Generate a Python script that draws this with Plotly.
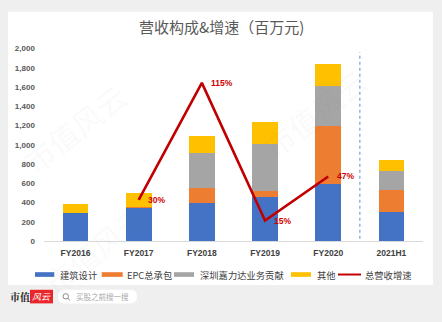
import plotly.graph_objects as go

# ---- data -------------------------------------------------------------
categories = ["FY2016", "FY2017", "FY2018", "FY2019", "FY2020", "2021H1"]
design = [290, 350, 400, 455, 595, 305]          # 建筑设计
epc = [0, 5, 147, 65, 595, 230]                   # EPC总承包
jialida = [0, 0, 367, 490, 420, 190]              # 深圳嘉力达业务贡献
other = [95, 140, 175, 230, 225, 115]             # 其他

growth_cats = ["FY2017", "FY2018", "FY2019", "FY2020"]
growth = [30, 115, 15, 47]                        # 总营收增速 (%)

series_names = ["建筑设计", "EPC总承包", "深圳嘉力达业务贡献", "其他"]
series_colors = ["#4472C4", "#ED7D31", "#A5A5A5", "#FFC000"]
line_name = "总营收增速"
line_color = "#C00000"

title_text = "营收构成&增速（百万元)"

# ---- canvas helpers ----------------------------------------------------
W, H = 442, 322


def px(x):
    return x / W


def py(y):
    return 1 - y / H


CJK = "Noto Sans CJK SC"
NUM = "Liberation Sans"

fig = go.Figure()

for name, vals, col in zip(series_names, [design, epc, jialida, other], series_colors):
    fig.add_trace(go.Bar(
        x=categories, y=vals, name=name,
        marker=dict(color=col, line=dict(width=0)),
        showlegend=False, hoverinfo="skip",
    ))

fig.add_trace(go.Scatter(
    x=growth_cats, y=growth, yaxis="y2", mode="lines", name=line_name,
    line=dict(color=line_color, width=2.6), showlegend=False, hoverinfo="skip",
))

shapes = []
annotations = []

# white card behind the chart
shapes.append(dict(type="rect", xref="paper", yref="paper",
                   x0=px(8), x1=px(433), y0=py(289), y1=py(8),
                   fillcolor="white", line=dict(width=0), layer="below"))

# separator between annual and half-year data
shapes.append(dict(type="line", xref="x", yref="y", x0=4.5, x1=4.5, y0=25, y1=1960,
                   line=dict(color="#8FAADC", width=1.4, dash="dot")))

# growth labels
for c, v in zip(growth_cats, growth):
    annotations.append(dict(
        x=c, y=v, xref="x", yref="y2", text=f"{v}%", showarrow=False,
        xanchor="left", yanchor="middle", xshift=7,
        font=dict(family=NUM, size=8.5, color="#D00000", weight="bold"),
    ))

# title
annotations.append(dict(
    x=px(221), y=py(23.5), xref="paper", yref="paper", text=title_text,
    showarrow=False, xanchor="center", yanchor="middle",
    font=dict(family=CJK, size=15, color="#595959"),
))

# legend
legend_y = 278.3
swatches = [(35, 54.3), (101.7, 122.7), (174, 194), (291, 311)]
text_x = [57.7, 125, 197.7, 314.7]
for (x0, x1), tx, name, col in zip(swatches, text_x, series_names, series_colors):
    shapes.append(dict(type="rect", xref="paper", yref="paper",
                       x0=px(x0), x1=px(x1), y0=py(legend_y + 2.4), y1=py(legend_y - 2.4),
                       fillcolor=col, line=dict(width=0)))
    annotations.append(dict(x=px(tx), y=py(legend_y), xref="paper", yref="paper", text=name,
                            showarrow=False, xanchor="left", yanchor="middle",
                            font=dict(family=CJK, size=9.3, color="#404040")))
shapes.append(dict(type="line", xref="paper", yref="paper",
                   x0=px(338), x1=px(361), y0=py(legend_y), y1=py(legend_y),
                   line=dict(color=line_color, width=2)))
annotations.append(dict(x=px(363), y=py(legend_y), xref="paper", yref="paper", text=line_name,
                        showarrow=False, xanchor="left", yanchor="middle",
                        font=dict(family=CJK, size=9.3, color="#404040")))

# footer brand strip
annotations.append(dict(x=px(8), y=py(301), xref="paper", yref="paper", text="<b>市值</b>",
                        showarrow=False, xanchor="left", yanchor="middle",
                        font=dict(family="Noto Serif CJK SC, " + CJK, size=10, color="#222222")))
shapes.append(dict(type="rect", xref="paper", yref="paper",
                   x0=px(30), x1=px(53), y0=py(308), y1=py(294),
                   fillcolor="#E8262B", line=dict(width=0)))
annotations.append(dict(x=px(41.5), y=py(301), xref="paper", yref="paper", text="<i>风云</i>",
                        showarrow=False, xanchor="center", yanchor="middle",
                        font=dict(family=CJK, size=9, color="white")))
shapes.append(dict(type="path", xref="paper", yref="paper",
                   path=(f"M {px(65)},{py(294)} L {px(130)},{py(294)} "
                         f"Q {px(137)},{py(294)} {px(137)},{py(301)} "
                         f"Q {px(137)},{py(308)} {px(130)},{py(308)} "
                         f"L {px(65)},{py(308)} Q {px(58)},{py(308)} {px(58)},{py(301)} "
                         f"Q {px(58)},{py(294)} {px(65)},{py(294)} Z"),
                   fillcolor="white", line=dict(width=0)))
shapes.append(dict(type="circle", xref="paper", yref="paper",
                   x0=px(63), x1=px(68.5), y0=py(303.5), y1=py(298),
                   line=dict(color="#888888", width=1)))
shapes.append(dict(type="line", xref="paper", yref="paper",
                   x0=px(67.8), x1=px(70), y0=py(302.8), y1=py(305),
                   line=dict(color="#888888", width=1)))
annotations.append(dict(x=px(73.5), y=py(301), xref="paper", yref="paper", text="买股之前搜一搜",
                        showarrow=False, xanchor="left", yanchor="middle",
                        font=dict(family=CJK, size=7.5, color="#AAAAAA")))

# faint brand watermark
for cx, cy in [(315, 112), (75, 128), (95, 252)]:
    annotations.append(dict(x=px(cx), y=py(cy), xref="paper", yref="paper", text="市值风云",
                            showarrow=False, textangle=-38, xanchor="center", yanchor="middle",
                            font=dict(family=CJK, size=30, color="rgba(120,120,120,0.055)")))

fig.update_layout(
    width=W, height=H,
    margin=dict(l=0, r=0, t=0, b=0),
    paper_bgcolor="#EFEFEF",
    plot_bgcolor="rgba(0,0,0,0)",
    barmode="stack",
    bargap=0.593,
    showlegend=False,
    xaxis=dict(
        domain=[px(43.9), px(423)],
        type="category",
        showline=True, linecolor="#D9D9D9", linewidth=1,
        ticks="", showgrid=False, zeroline=False,
        tickfont=dict(family=NUM, size=8.5, color="#404040", weight="bold"),
        ticklabelstandoff=4,
    ),
    yaxis=dict(
        domain=[py(244), py(45.7)],
        range=[0, 2000], dtick=200, tickformat=",",
        showgrid=False, zeroline=False, showline=False, ticks="",
        tickfont=dict(family=NUM, size=8, color="#595959", weight="bold"),
        ticklabelstandoff=8,
    ),
    yaxis2=dict(
        overlaying="y", side="right", range=[0, 140],
        visible=False, showgrid=False, zeroline=False,
    ),
    shapes=shapes,
    annotations=annotations,
)

fig.write_html("out.html")
